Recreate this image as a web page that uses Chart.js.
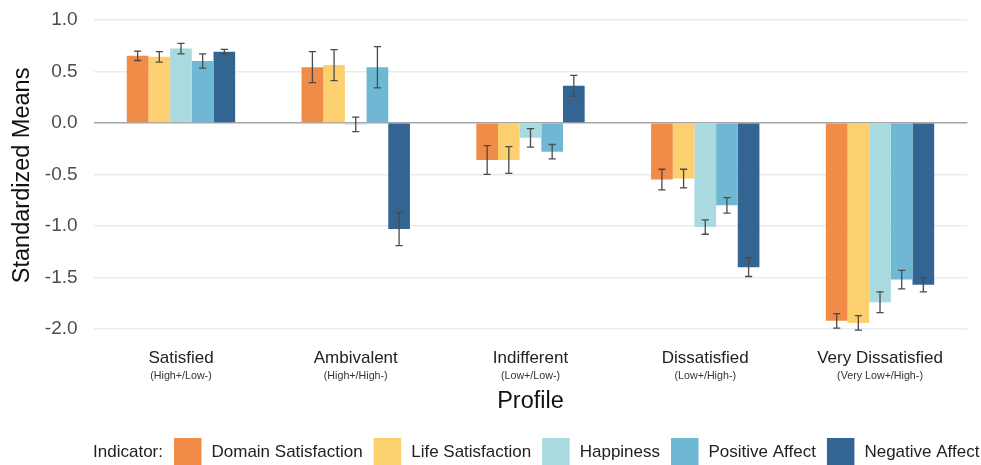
<!DOCTYPE html>
<html>
<head>
<meta charset="utf-8">
<script src="https://cdn.jsdelivr.net/npm/chart.js@4.4.1/dist/chart.umd.min.js"></script>
<style>
  html, body { margin: 0; padding: 0; background: #fff; }
  #wrap { width: 981px; height: 465px; }
</style>
</head>
<body>
<div id="wrap"><canvas id="chart"></canvas></div>
<script>
const profiles = ['Satisfied', 'Ambivalent', 'Indifferent', 'Dissatisfied', 'Very Dissatisfied'];
const subLabels = ['(High+/Low-)', '(High+/High-)', '(Low+/Low-)', '(Low+/High-)', '(Very Low+/High-)'];
const yTicks = [1.0, 0.5, 0.0, -0.5, -1.0, -1.5, -2.0];

// standardized means per indicator, one value per profile
const domainSat = [0.65, 0.54, -0.36, -0.55, -1.92];
const lifeSat = [0.64, 0.56, -0.36, -0.54, -1.94];
const happiness = [0.72, -0.015, -0.145, -1.01, -1.74];
const posAffect = [0.60, 0.54, -0.28, -0.80, -1.52];
const negAffect = [0.69, -1.03, 0.36, -1.40, -1.57];

// error bar half-widths
const domainErr = [0.045, 0.15, 0.14, 0.10, 0.07];
const lifeErr = [0.05, 0.15, 0.13, 0.09, 0.07];
const happinessErr = [0.05, 0.07, 0.09, 0.07, 0.10];
const posErr = [0.07, 0.20, 0.07, 0.075, 0.09];
const negErr = [0.022, 0.16, 0.10, 0.09, 0.07];

const font = "'Liberation Sans', Arial, sans-serif";

const errorBars = {
    id: 'errorBars',
    afterDatasetsDraw(chart) {
        const { ctx } = chart;
        const y = chart.scales.y;
        ctx.save();
        ctx.strokeStyle = '#4a4a4a';
        ctx.lineWidth = 1.3;
        chart.data.datasets.forEach((ds, i) => {
            const meta = chart.getDatasetMeta(i);
            meta.data.forEach((bar, j) => {
                const v = ds.data[j], e = ds.errors[j];
                const top = y.getPixelForValue(v + e);
                const bot = y.getPixelForValue(v - e);
                const cap = 3.6;
                ctx.beginPath();
                ctx.moveTo(bar.x, top); ctx.lineTo(bar.x, bot);
                ctx.moveTo(bar.x - cap, top); ctx.lineTo(bar.x + cap, top);
                ctx.moveTo(bar.x - cap, bot); ctx.lineTo(bar.x + cap, bot);
                ctx.stroke();
            });
        });
        ctx.restore();
    }
};

const extras = {
    id: 'extras',
    afterDraw(chart) {
        const { ctx } = chart;
        const x = chart.scales.x;
        ctx.save();
        // small profile descriptions under tick labels
        ctx.fillStyle = '#333';
        ctx.font = '10.7px ' + font;
        ctx.textAlign = 'center';
        ctx.textBaseline = 'middle';
        subLabels.forEach((s, i) => {
            ctx.fillText(s, x.getPixelForTick(i), 376);
        });
        // legend
        ctx.font = '17px ' + font;
        ctx.fillStyle = '#222';
        const ly = 452;
        ctx.textAlign = 'right';
        ctx.fillText('Indicator:', 163, ly);
        ctx.textAlign = 'left';
        let lx = 174;
        chart.data.datasets.forEach(ds => {
            ctx.fillStyle = ds.backgroundColor;
            ctx.fillRect(lx, 438, 27.5, 28);
            lx += 27.5 + 10;
            ctx.fillStyle = '#222';
            ctx.fillText(ds.label, lx, ly);
            lx += ctx.measureText(ds.label).width + 11;
        });
        ctx.restore();
    }
};

const mk = (label, data, errors, color) => ({
    label, data, errors,
    backgroundColor: color,
    borderWidth: 0,
    barPercentage: 1,
    categoryPercentage: 0.62
});

new Chart(document.getElementById('chart'), {
    type: 'bar',
    data: {
        labels: profiles,
        datasets: [
            mk('Domain Satisfaction', domainSat, domainErr, '#F08C47'),
            mk('Life Satisfaction', lifeSat, lifeErr, '#FDD06F'),
            mk('Happiness', happiness, happinessErr, '#A8DADF'),
            mk('Positive Affect', posAffect, posErr, '#6EB8D4'),
            mk('Negative Affect', negAffect, negErr, '#336592')
        ]
    },
    options: {
        responsive: true,
        maintainAspectRatio: false,
        animation: false,
        layout: { padding: { top: 0, right: 13.6, bottom: 49.8, left: 0 } },
        plugins: {
            legend: { display: false },
            tooltip: { enabled: false }
        },
        scales: {
            x: {
                grid: { display: false },
                border: { display: false },
                ticks: { font: { family: font, size: 17 }, color: '#222', padding: 1 },
                title: {
                    display: true, text: 'Profile',
                    font: { family: font, size: 23.5 }, color: '#111',
                    padding: { top: 17.2, bottom: 0 }
                }
            },
            y: {
                min: -2.1,
                max: 1.081,
                afterBuildTicks: s => { s.ticks = yTicks.map(v => ({ value: v })); },
                afterFit: s => { s.width = 93.6; },
                grid: {
                    drawTicks: true,
                    tickLength: 16,
                    tickColor: 'rgba(0,0,0,0)',
                    lineWidth: t => (t.tick && t.tick.value === 0 ? 1.4 : 1.6),
                    color: t => (t.tick && t.tick.value === 0 ? '#A6A6A6' : '#EBEBEB')
                },
                border: { display: false },
                ticks: {
                    font: { family: font, size: 19 }, color: '#4D4D4D', padding: 0,
                    callback: v => v.toFixed(1)
                },
                title: {
                    display: true, text: 'Standardized Means',
                    font: { family: font, size: 23.5 }, color: '#111',
                    padding: { top: 8, bottom: 0 }
                }
            }
        }
    },
    plugins: [errorBars, extras]
});
</script>
</body>
</html>
